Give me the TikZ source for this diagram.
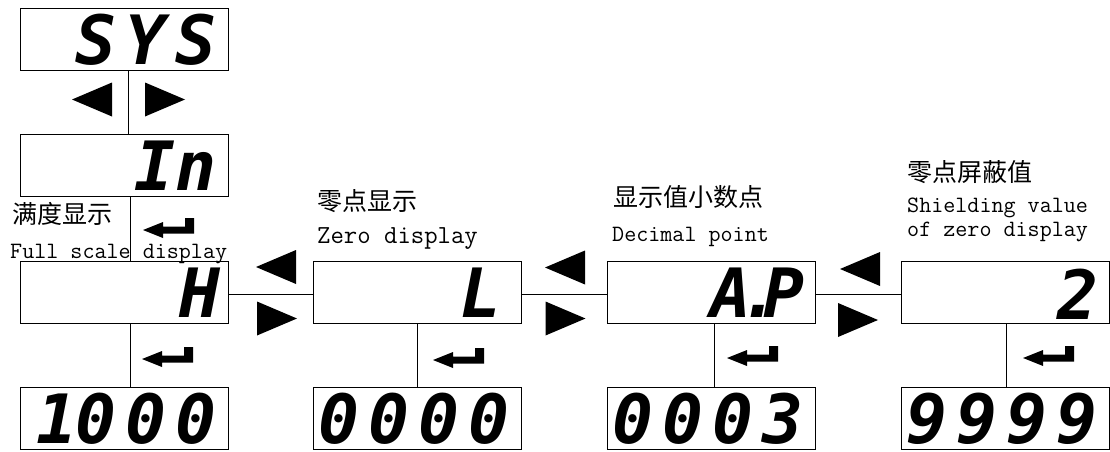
\documentclass[tikz,border=0pt]{standalone}
\usepackage{fontspec}
\newfontfamily\cjk{Noto Sans CJK SC}
\newfontfamily\segfont{DejaVu Sans Mono}
\newcommand\dg{\kern9pt}
\begin{document}
\begin{tikzpicture}[x=1pt,y=-1pt,
  disp/.style={draw=black, line width=0.9pt, minimum width=208pt, minimum height=62pt, inner sep=0pt, anchor=north west},
  seg/.style={font={\segfont\bfseries\itshape\fontsize{68pt}{68pt}\selectfont}, anchor=base east, inner sep=0pt},
  cn/.style={font={\cjk\fontsize{25pt}{28pt}\selectfont}, anchor=base west, inner sep=0pt},
  en/.style={font={\ttfamily\fontsize{23.4pt}{24pt}\selectfont}, anchor=base west, inner sep=0pt, align=left},
  conn/.style={line width=0.9pt},
  ltri/.pic={\fill (-20,0) -- (20,-17) -- (20,17) -- cycle;},
  rtri/.pic={\fill (20,0) -- (-20,-17) -- (-20,17) -- cycle;},
  enter/.pic={\fill (0,0) -- (20,-8) -- (20,-3.5) -- (42,-3.5) -- (42,-12) -- (51,-12) -- (51,3.5) -- (20,3.5) -- (20,8) -- cycle;}
]
\useasboundingbox (0,0) rectangle (1110,452);

% display boxes
\node[disp] (sys) at (20,8) {};
\node[disp] (in) at (20,134) {};
\node[disp] (h) at (20,261) {};
\node[disp] (l) at (313,261) {};
\node[disp] (ap) at (607,261) {};
\node[disp] (two) at (901,261) {};
\node[disp] (b1) at (20,387) {};
\node[disp] (b2) at (313,387) {};
\node[disp] (b3) at (607,387) {};
\node[disp] (b4) at (901,387) {};

% connectors
\draw[conn] ([xshift=4pt]sys.south) -- ([xshift=4pt]in.north);
\draw[conn] ([xshift=6pt]in.south) -- ([xshift=6pt]h.north);
\draw[conn] ([xshift=6pt]h.south) -- ([xshift=6pt]b1.north);
\draw[conn] (l.south) -- (b2.north);
\draw[conn] ([xshift=3pt]ap.south) -- ([xshift=3pt]b3.north);
\draw[conn] ([xshift=1pt]two.south) -- ([xshift=1pt]b4.north);
\draw[conn] ([yshift=-2pt]h.east) -- ([yshift=-2pt]l.west);
\draw[conn] ([yshift=-2pt]l.east) -- ([yshift=-2pt]ap.west);
\draw[conn] ([yshift=-2pt]ap.east) -- ([yshift=-2pt]two.west);

% navigation arrows
\pic at (92,99.5) {ltri};
\pic at (165,99.5) {rtri};
\pic at (276,267) {ltri};
\pic at (277,318.5) {rtri};
\pic at (565,267.5) {ltri};
\pic at (565.5,318.5) {rtri};
\pic at (860,269) {ltri};
\pic at (858,320) {rtri};

% enter symbols
\pic at (143,230) {enter};
\pic at (142,359) {enter};
\pic at (433,360) {enter};
\pic at (727,358) {enter};
\pic at (1023,358) {enter};

% display texts
\node[seg] (sysT) at ([xshift=-12pt,yshift=6pt]sys.south east) {S\kern9pt Y\kern9pt S};
\node[seg] (inT) at ([xshift=-12pt,yshift=6pt]in.south east) {In};
\node[seg] (hT) at ([xshift=-8pt,yshift=6pt]h.south east) {H};
\node[seg] (lT) at ([xshift=-20pt,yshift=6pt]l.south east) {L};
\node[seg] (apT) at ([xshift=-11pt,yshift=6pt]ap.south east) {A\kern-12pt.\kern-17pt P};
\node[seg] (twoT) at ([xshift=-11pt,yshift=4pt]two.south east) {2};
\node[seg] (b1T) at ([xshift=-12pt,yshift=6pt]b1.south east) {1\kern-2pt 0\dg 0\dg 0};
\node[seg] (b2T) at ([xshift=-12pt,yshift=6pt]b2.south east) {0\dg 0\dg 0\dg 0};
\node[seg] (b3T) at ([xshift=-12pt,yshift=6pt]b3.south east) {0\dg 0\dg 0\dg 3};
\node[seg] (b4T) at ([xshift=-12pt,yshift=6pt]b4.south east) {9\dg 9\dg 9\dg 9};

% labels
\node[cn] (lab1) at (12,223.5) {满度显示};
\node[en] (lab1e) at (10,258) {Full scale display};
\node[cn] (lab2) at (317,210.5) {零点显示};
\node[en, font={\ttfamily\fontsize{26pt}{26pt}\selectfont}] (lab2e) at (317,243) {Zero display};
\node[cn] (lab3) at (613,206.5) {显示值小数点};
\node[en] (lab3e) at (612,241) {Decimal point};
\node[cn] (lab4) at (907,181.5) {零点屏蔽值};
\node[en] (lab4e) at (907,236) {Shielding value\\of zero display};
\end{tikzpicture}
\end{document}
